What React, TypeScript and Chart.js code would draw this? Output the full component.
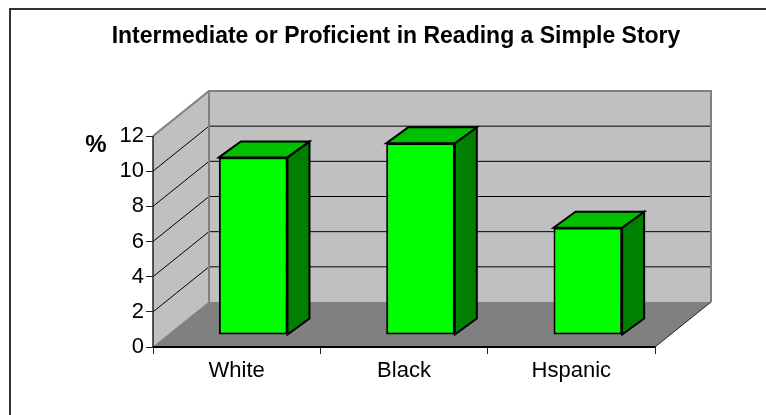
import React, { useEffect, useRef } from "react";
import { Chart, registerables } from "chart.js";

Chart.register(...registerables);

const categories = ["White", "Black", "Hspanic"];
const percentValues = [10.1, 10.9, 6.1];
const titleText = "Intermediate or Proficient in Reading a Simple Story";
const unitLabel = "%";

const FONT = "'Liberation Sans', Arial, sans-serif";
// Projection of the rear wall relative to the front plane.
const WALL_DX = 56;
const WALL_DY = -45;
// Bars stand part of the way into the floor.
const BAR_DX = 16.5;
const BAR_DY = -12;
const BAR_DEPTH_DX = 22;
const BAR_DEPTH_DY = -16;

const poly = (ctx: CanvasRenderingContext2D, pts: number[][], fill: string | null, stroke: string | null, lw = 1) => {
  ctx.beginPath();
  pts.forEach(([x, y], i) => (i ? ctx.lineTo(x, y) : ctx.moveTo(x, y)));
  ctx.closePath();
  if (fill) {
    ctx.fillStyle = fill;
    ctx.fill();
  }
  if (stroke) {
    ctx.strokeStyle = stroke;
    ctx.lineWidth = lw;
    ctx.lineJoin = "miter";
    ctx.stroke();
  }
};

const line = (ctx: CanvasRenderingContext2D, x1: number, y1: number, x2: number, y2: number, color: string, lw: number) => {
  ctx.beginPath();
  ctx.moveTo(x1, y1);
  ctx.lineTo(x2, y2);
  ctx.strokeStyle = color;
  ctx.lineWidth = lw;
  ctx.stroke();
};

const titleOffset = {
  id: "titleOffset",
  afterLayout(chart: any) {
    chart.titleBlock.left = 26;
    chart.titleBlock.right = 766;
  },
};

const frame = {
  id: "frame",
  beforeDraw(chart: any) {
    const { ctx, width, height } = chart;
    ctx.save();
    ctx.fillStyle = "#ffffff";
    ctx.fillRect(0, 0, width, height);
    // the panel outline runs off the canvas at the right and the bottom
    ctx.beginPath();
    ctx.moveTo(10, height);
    ctx.lineTo(10, 9);
    ctx.lineTo(width, 9);
    ctx.strokeStyle = "#333333";
    ctx.lineWidth = 2;
    ctx.stroke();
    ctx.restore();
  },
};

const box3d = {
  id: "box3d",
  beforeDatasetsDraw(chart: any) {
    const { ctx, chartArea: a, scales } = chart;
    const y = scales.y;
    const topY = y.getPixelForValue(12);
    const floorY = y.getPixelForValue(0);
    ctx.save();
    // side wall, rear wall, floor
    poly(ctx, [[a.left, floorY], [a.left + WALL_DX, floorY + WALL_DY], [a.left + WALL_DX, topY + WALL_DY], [a.left, topY]], "#c0c0c0", null);
    poly(ctx, [[a.left + WALL_DX, floorY + WALL_DY], [a.right + WALL_DX, floorY + WALL_DY], [a.right + WALL_DX, topY + WALL_DY], [a.left + WALL_DX, topY + WALL_DY]], "#c0c0c0", null);
    poly(ctx, [[a.left, floorY], [a.right, floorY], [a.right + WALL_DX, floorY + WALL_DY], [a.left + WALL_DX, floorY + WALL_DY]], "#808080", null);
    // gridlines wrap from the side wall on to the rear wall
    y.ticks.forEach((t: any) => {
      if (t.value === 0 || t.value === 12) return;
      const py = y.getPixelForValue(t.value);
      line(ctx, a.left, py, a.left + WALL_DX, py + WALL_DY, "#000000", 1);
      line(ctx, a.left + WALL_DX, py + WALL_DY, a.right + WALL_DX, py + WALL_DY, "#000000", 1);
    });
    // wall edges
    ctx.lineJoin = "miter";
    ctx.beginPath();
    ctx.moveTo(a.left, topY);
    ctx.lineTo(a.left + WALL_DX, topY + WALL_DY);
    ctx.lineTo(a.right + WALL_DX, topY + WALL_DY);
    ctx.lineTo(a.right + WALL_DX, floorY + WALL_DY);
    ctx.strokeStyle = "#808080";
    ctx.lineWidth = 2;
    ctx.stroke();
    line(ctx, a.left + WALL_DX, topY + WALL_DY, a.left + WALL_DX, floorY + WALL_DY, "#808080", 2);
    line(ctx, a.right, floorY, a.right + WALL_DX, floorY + WALL_DY, "#222222", 1);
    line(ctx, a.left, floorY, a.left + WALL_DX, floorY + WALL_DY, "#808080", 1);
    line(ctx, a.left, topY, a.left, floorY, "#222222", 1.5);
    line(ctx, a.left, floorY, a.right, floorY, "#000000", 2);
    ctx.restore();

    // unit label beside the top of the value axis
    ctx.save();
    ctx.font = `bold 24px ${FONT}`;
    ctx.fillStyle = "#000000";
    ctx.textAlign = "center";
    ctx.textBaseline = "middle";
    ctx.fillText(unitLabel, 96, 145);
    ctx.restore();
  },
  beforeDatasetDraw(chart: any, args: any) {
    const { ctx } = chart;
    const meta = chart.getDatasetMeta(args.index);
    ctx.save();
    ctx.translate(BAR_DX, BAR_DY);
    meta.data.forEach((bar: any) => {
      const l = bar.x - bar.width / 2;
      const r = bar.x + bar.width / 2;
      const t = bar.y;
      const b = bar.base;
      // right side and top faces of the column
      poly(ctx, [[r, t], [r + BAR_DEPTH_DX, t + BAR_DEPTH_DY], [r + BAR_DEPTH_DX, b + BAR_DEPTH_DY], [r, b]], "#008000", "#000000", 2);
      poly(ctx, [[l, t], [l + BAR_DEPTH_DX, t + BAR_DEPTH_DY], [r + BAR_DEPTH_DX, t + BAR_DEPTH_DY], [r, t]], "#00c000", "#000000", 2);
    });
  },
  afterDatasetDraw(chart: any) {
    chart.ctx.restore();
  },
};

export default function App() {
  const ref = useRef<HTMLCanvasElement>(null);

  useEffect(() => {
    const chart = new Chart(ref.current as HTMLCanvasElement, {
      type: "bar",
      data: {
        labels: categories,
        datasets: [
          {
            data: percentValues,
            backgroundColor: "#00ff00",
            borderColor: "#000000",
            borderWidth: 2,
            borderSkipped: false,
            barPercentage: 1,
            categoryPercentage: 0.41,
            clip: false,
          } as any,
        ],
      },
      plugins: [frame, titleOffset, box3d],
      options: {
        animation: false,
        responsive: false,
        devicePixelRatio: 1,
        layout: { padding: { left: 0, right: 111, top: 0, bottom: 0 } },
        plugins: {
          legend: { display: false },
          tooltip: { enabled: false },
          title: {
            display: true,
            text: titleText,
            color: "#000000",
            font: { family: FONT, size: 23, weight: "bold", lineHeight: 1.2 },
            padding: { top: 23, bottom: 85.4 },
          },
        },
        scales: {
          x: {
            afterFit(scale: any) {
              scale.height = 68;
            },
            grid: { drawOnChartArea: false, drawTicks: true, tickLength: 7, color: "#222222", offset: true },
            border: { display: false },
            ticks: { color: "#000000", font: { family: FONT, size: 22 }, padding: 4 },
          },
          y: {
            min: 0,
            max: 12,
            afterFit(scale: any) {
              scale.width = 153;
            },
            grid: { drawOnChartArea: false, drawTicks: true, tickLength: 7, color: "#222222" },
            border: { display: false },
            ticks: { stepSize: 2, color: "#000000", font: { family: FONT, size: 22 }, padding: 2 },
          },
        },
      } as any,
    });
    return () => chart.destroy();
  }, []);

  return (
    <div style={{ position: "absolute", left: 0, top: 0, width: 766, height: 415, overflow: "hidden" }}>
      <canvas ref={ref} width={766} height={415} style={{ display: "block" }} />
    </div>
  );
}
